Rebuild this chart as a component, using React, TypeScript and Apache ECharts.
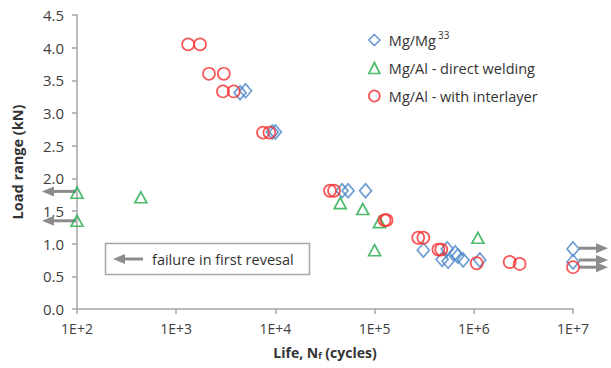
import React, { useEffect, useRef } from "react";
import * as echarts from "echarts";

// Mg/Mg (ref 33)
const mgMgLife = [4400, 5000, 9300, 10000, 47000, 54000, 81000, 310000, 540000, 480000, 550000, 650000, 690000, 780000, 1150000, 1e7, 1e7];
const mgMgLoad = [3.31, 3.34, 2.71, 2.71, 1.81, 1.81, 1.81, 0.9, 0.92, 0.76, 0.73, 0.86, 0.81, 0.75, 0.75, 0.92, 0.72];

// Mg/Al - direct welding
const directLife = [100, 100, 440, 45000, 76000, 112000, 100000, 1100000];
const directLoad = [1.78, 1.35, 1.71, 1.62, 1.53, 1.33, 0.9, 1.09];

// Mg/Al - with interlayer
const interLife = [1320, 1740, 2140, 3020, 2960, 3800, 7500, 8700, 35500, 39000, 126000, 132000, 275000, 310000, 440000, 470000, 1070000, 2300000, 2900000, 1e7];
const interLoad = [4.05, 4.05, 3.6, 3.6, 3.33, 3.33, 2.7, 2.7, 1.81, 1.81, 1.36, 1.36, 1.09, 1.09, 0.91, 0.91, 0.7, 0.72, 0.69, 0.64];

// run-out / first-reversal arrows
const leftArrowLife = [100, 100];
const leftArrowLoad = [1.8, 1.35];
const rightArrowLife = [1e7, 1e7, 1e7];
const rightArrowLoad = [0.93, 0.75, 0.64];

const yTicks = ["0.0", "0.5", "1.0", "1.5", "2.0", "2.5", "3.0", "3.5", "4.0", "4.5"];

const FONT = "'Open Sans', Lato, sans-serif";
const BLUE = "#4a86c8";
const GREEN = "#22aa4a";
const RED = "#f52d2d";
const GRAY = "#8c8c8c";

const zip = (a: number[], b: number[]) => a.map((v, i) => [v, b[i]]);

export default function App() {
  const ref = useRef<HTMLDivElement>(null);
  useEffect(() => {
    if (!ref.current) return;
    const chart = echarts.init(ref.current, undefined, { renderer: "svg" });
    const mk = (color: string) => ({ color: "rgba(255,255,255,0)", borderColor: color, borderWidth: 1.7 });
    chart.setOption({
      animation: false,
      backgroundColor: "#fff",
      grid: { left: 77, right: 38, top: 15, bottom: 59, containLabel: false },
      legend: {
        orient: "vertical",
        left: 363,
        top: 25,
        itemWidth: 11,
        itemHeight: 11,
        itemGap: 13,
        textStyle: {
          fontFamily: FONT,
          fontSize: 14.5,
          color: "#333",
          padding: [0, 0, 0, 4],
          rich: { sup: { fontFamily: FONT, fontSize: 10, color: "#333", verticalAlign: "top", padding: [0, 0, 10, 2] } },
        },
        formatter: (n: string) => (n === "Mg/Mg33" ? "Mg/Mg{sup|33}" : n),
        data: [
          { name: "Mg/Mg33", icon: "diamond", itemStyle: mk(BLUE) },
          { name: "Mg/Al - direct welding", icon: "triangle", itemStyle: mk(GREEN) },
          { name: "Mg/Al - with interlayer", icon: "circle", itemStyle: mk(RED) },
        ],
      },
      xAxis: {
        type: "log",
        logBase: 10,
        min: 100,
        max: 1e7,
        splitLine: { show: false },
        axisLine: { lineStyle: { color: "#a6a6a6", width: 1.5 } },
        axisTick: { show: true, length: 5, lineStyle: { color: "#a6a6a6", width: 1.5 } },
        minorTick: { show: false },
        axisLabel: {
          fontFamily: FONT,
          fontSize: 14,
          color: "#404040",
          margin: 12,
          formatter: (v: number) => "1E+" + Math.round(Math.log10(v)),
        },
        name: "Life, N{sub|f} (cycles)",
        nameLocation: "middle",
        nameGap: 36,
        nameTextStyle: {
          fontFamily: FONT,
          fontSize: 14,
          fontWeight: "bold",
          color: "#333",
          rich: { sub: { fontFamily: FONT, fontSize: 9, fontWeight: "bold", color: "#333", verticalAlign: "bottom", padding: [6, 0, 0, 0] } },
        },
      },
      yAxis: {
        type: "value",
        min: 0,
        max: 4.5,
        interval: 0.5,
        splitLine: { show: false },
        axisLine: { show: true, lineStyle: { color: "#a6a6a6", width: 1.5 } },
        axisTick: { show: true, length: 5, lineStyle: { color: "#a6a6a6", width: 1.5 } },
        axisLabel: {
          fontFamily: FONT,
          fontSize: 15,
          color: "#404040",
          margin: 13,
          formatter: (v: number) => yTicks[Math.round(v * 2)] ?? v.toFixed(1),
        },
        name: "Load range (kN)",
        nameLocation: "middle",
        nameGap: 52,
        nameTextStyle: { fontFamily: FONT, fontSize: 14.5, fontWeight: "bold", color: "#333" },
      },
      series: [
        {
          name: "Mg/Mg33",
          type: "scatter",
          symbol: "diamond",
          symbolSize: [12, 14],
          itemStyle: mk(BLUE),
          data: zip(mgMgLife, mgMgLoad),
          clip: false,
          z: 2,
        },
        {
          name: "Mg/Al - direct welding",
          type: "scatter",
          symbol: "triangle",
          symbolSize: [12, 11],
          itemStyle: mk(GREEN),
          data: zip(directLife, directLoad),
          clip: false,
          z: 3,
        },
        {
          name: "Mg/Al - with interlayer",
          type: "scatter",
          symbol: "circle",
          symbolSize: 12,
          itemStyle: mk(RED),
          data: zip(interLife, interLoad),
          clip: false,
          z: 4,
        },
      ],
    });

    const arrow = (tipX: number, y: number, tailX: number) => {
      const dir = tailX > tipX ? 1 : -1;
      const headLen = 12;
      const baseX = tipX + dir * headLen;
      return [
        { type: "line", shape: { x1: tailX, y1: y, x2: baseX, y2: y }, style: { stroke: GRAY, lineWidth: 3 }, z: 1 },
        { type: "polygon", shape: { points: [[tipX, y], [baseX, y - 5], [baseX, y + 5]] }, style: { fill: GRAY }, z: 1 },
      ];
    };

    const graphics: any[] = [];
    leftArrowLife.forEach((l, i) => {
      const p = chart.convertToPixel({ gridIndex: 0 }, [l, leftArrowLoad[i]]) as number[];
      graphics.push(...arrow(p[0] - 35, p[1], p[0] - 1));
    });
    rightArrowLife.forEach((l, i) => {
      const p = chart.convertToPixel({ gridIndex: 0 }, [l, rightArrowLoad[i]]) as number[];
      graphics.push(...arrow(p[0] + 35, p[1], p[0] + 6));
    });
    graphics.push({
      type: "rect",
      shape: { x: 105.5, y: 243.5, width: 204, height: 31 },
      style: { fill: "#fff", stroke: "#a6a6a6", lineWidth: 1.5 },
      z: 5,
    });
    const boxArrow = arrow(113, 259, 143);
    boxArrow.forEach((g: any) => (g.z = 6));
    graphics.push(...boxArrow);
    graphics.push({
      type: "text",
      x: 152,
      y: 259,
      style: { text: "failure in first revesal", fontFamily: FONT, fontSize: 14.5, fill: "#333", verticalAlign: "middle" },
      z: 6,
    });
    chart.setOption({ graphic: graphics });

    return () => chart.dispose();
  }, []);
  return <div ref={ref} style={{ position: "absolute", left: 0, top: 0, width: 611, height: 368 }} />;
}
